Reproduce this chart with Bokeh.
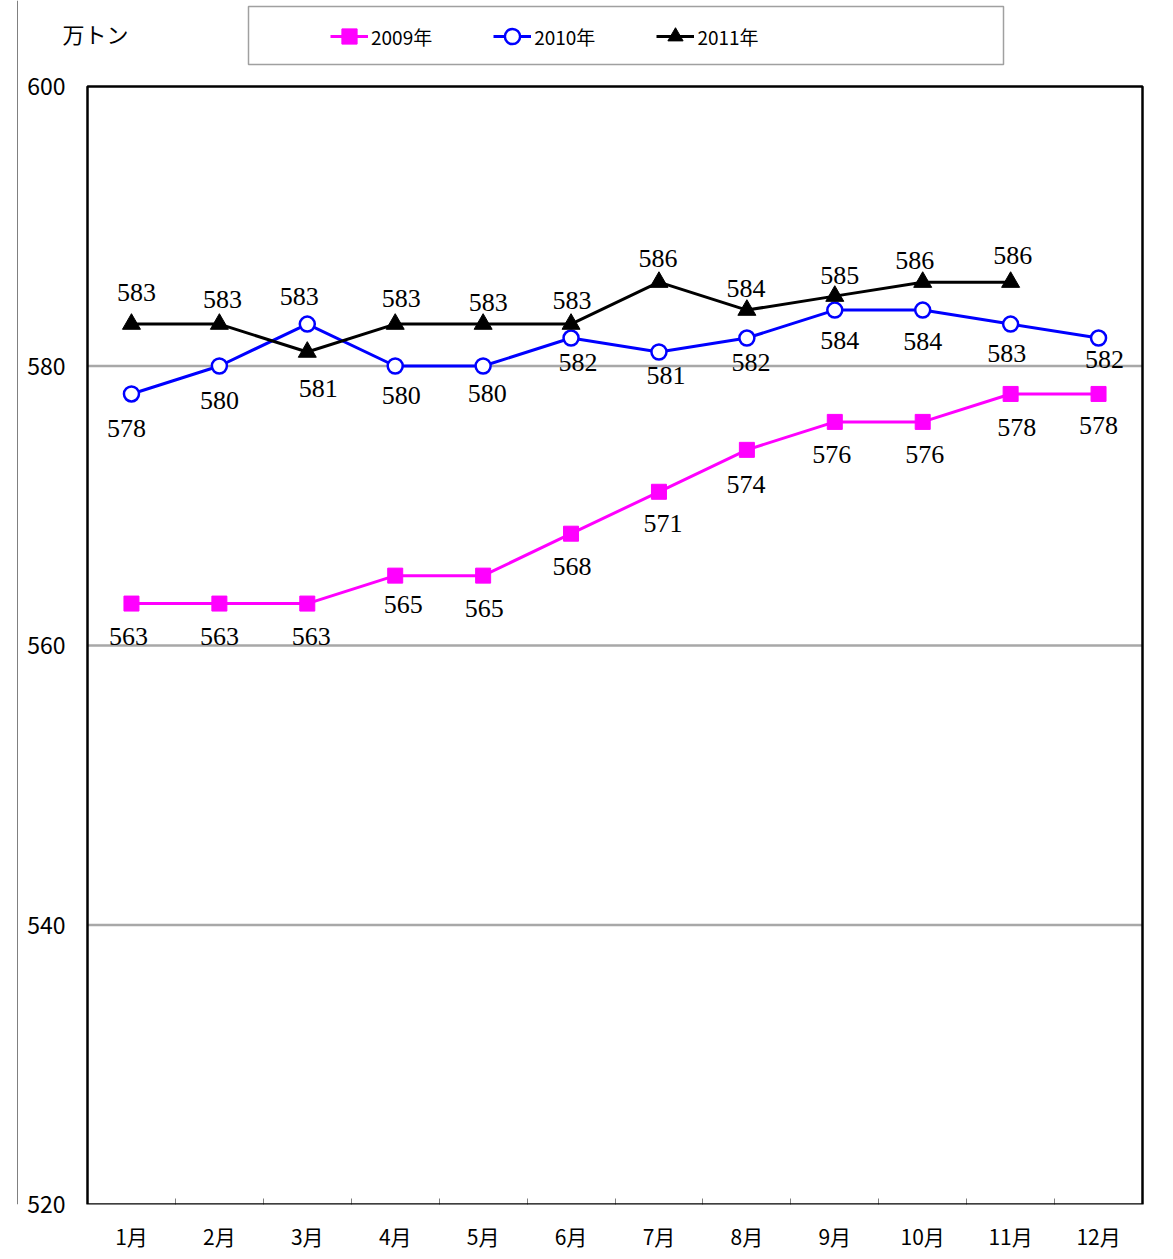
from bokeh.plotting import figure
from bokeh.models import (Range1d, FixedTicker, Legend, LegendItem, Label, BoxAnnotation, Span)
from bokeh.core.properties import value
from bokeh.embed import file_html
from bokeh.resources import INLINE

months = ["1月", "2月", "3月", "4月", "5月", "6月", "7月", "8月", "9月", "10月", "11月", "12月"]
y2009 = [563, 563, 563, 565, 565, 568, 571, 574, 576, 576, 578, 578]
y2010 = [578, 580, 583, 580, 580, 582, 581, 582, 584, 584, 583, 582]
y2011 = [583, 583, 581, 583, 583, 583, 586, 584, 585, 586, 586]
y_ticks = [520, 540, 560, 580, 600]
grid_values = [540, 560, 580]
unit_label = "万トン"
series_names = ["2009年", "2010年", "2011年"]

# label offsets in screen pixels (dx, dy; dy positive = down)
dx2009 = [-3, 0, 4, 8, 1, 1, 4, -1, -3, 2, 6, 0]
dy2009 = [33, 33, 33, 29, 33, 33, 32, 35, 33, 33, 34, 32]
dx2010 = [-5, 0, -8, 6, 4, 7, 7, 4, 5, 0, -4, 6]
dy2010 = [35, 34, -28, 29, 27, 24, 23, 24, 30, 31, 29, 21]
dx2011 = [5, 3, 11, 6, 5, 1, -1, -1, 5, -8, 2]
dy2011 = [-32, -25, 36, -26, -22, -24, -24, -22, -21, -22, -27]

SANS = "Noto Sans CJK JP"
SERIF = "Liberation Serif"

# layout geometry (pixels)
W, H = 1173, 1259
BOTTOM = 55
FH = H - BOTTOM
PL, PR, PT, PB = 87, 1142, 86, 1204   # plot box in pixels
XMIN, XMAX = 0.5, len(months) + 0.5
YMIN, YMAX = y_ticks[0], y_ticks[-1]
kx = (XMAX - XMIN) / (PR - PL)
ky = (YMAX - YMIN) / (PB - PT)
def px_x(px):
    return XMIN + (px - PL) * kx
def px_y(py):
    return YMAX + (PT - py) * ky

p = figure(width=W, height=H, output_backend="svg", toolbar_location=None,
           x_range=Range1d(px_x(0), px_x(W)), y_range=Range1d(px_y(FH), px_y(0)),
           min_border_left=0, min_border_right=0, min_border_top=0, min_border_bottom=BOTTOM)
p.background_fill_color = "white"
p.border_fill_color = "white"
p.outline_line_color = None

xs = list(range(1, len(months) + 1))

# x axis
p.xaxis.ticker = FixedTicker(ticks=xs, minor_ticks=[x + 0.5 for x in xs[:-1]])
p.xaxis.major_label_overrides = {x: m for x, m in zip(xs, months)}
p.xaxis.major_tick_line_color = None
p.xaxis.major_tick_in = 0
p.xaxis.major_tick_out = 0
p.xaxis.minor_tick_in = 6
p.xaxis.minor_tick_out = 0
p.xaxis.minor_tick_line_color = "#808080"
p.xaxis.axis_line_color = None
p.xaxis.major_label_text_font = SANS
p.xaxis.major_label_text_font_size = "21px"
p.xaxis.major_label_text_color = "black"
p.xaxis.major_label_standoff = 16

# y axis (labels drawn into the canvas margin)
p.yaxis.ticker = FixedTicker(ticks=y_ticks)
p.yaxis.major_tick_line_color = None
p.yaxis.major_tick_in = 0
p.yaxis.major_tick_out = 0
p.yaxis.minor_tick_line_color = None
p.yaxis.axis_line_color = None
p.yaxis.major_label_text_font = SANS
p.yaxis.major_label_text_font_size = "23px"
p.yaxis.major_label_text_color = "black"
p.yaxis.major_label_standoff = -65

p.xgrid.grid_line_color = None
p.ygrid.grid_line_color = None

# grid lines inside plot box
p.segment(x0=[XMIN] * len(grid_values), x1=[XMAX] * len(grid_values), y0=grid_values, y1=grid_values,
          line_color="#505050", line_width=2.5, line_dash="1 1")

# plot box
p.add_layout(BoxAnnotation(left=XMIN, right=XMAX, bottom=YMIN, top=YMAX,
                           fill_alpha=0, line_color="black", line_alpha=1, line_width=2.5))

# series
l09 = p.line(xs, y2009, line_color="#FF00FF", line_width=3)
m09 = p.scatter(xs, y2009, marker="square", size=15, fill_color="#FF00FF", line_color="#FF00FF")
l10 = p.line(xs, y2010, line_color="#0000FF", line_width=3)
m10 = p.scatter(xs, y2010, marker="circle", size=15, fill_color="white", line_color="#0000FF", line_width=2.5)
x11 = xs[:len(y2011)]
l11 = p.line(x11, y2011, line_color="black", line_width=3)
m11 = p.scatter(x11, y2011, marker="triangle", size=18, fill_color="black", line_color="black")

# data labels
for xv, yv, dx, dy in [(xs, y2009, dx2009, dy2009), (xs, y2010, dx2010, dy2010), (x11, y2011, dx2011, dy2011)]:
    for x, y, ox, oy in zip(xv, yv, dx, dy):
        p.text(x=[x], y=[y], text=[str(y)], x_offset=ox, y_offset=oy,
               text_font=value(SERIF), text_font_size="26px", text_color="black",
               text_align="center", text_baseline="middle")

# unit label
p.add_layout(Label(x=px_x(95), y=px_y(32), text=unit_label, text_font=SANS, text_font_size="22px",
                   text_color="black", text_align="center", text_baseline="middle"))

# legend box and legend
p.add_layout(BoxAnnotation(left=px_x(248), right=px_x(1003), bottom=px_y(64), top=px_y(6),
                           fill_color="white", fill_alpha=1, line_color="#A0A0A0", line_alpha=1, line_width=1.5))
legend = Legend(items=[LegendItem(label=series_names[0], renderers=[l09, m09]),
                       LegendItem(label=series_names[1], renderers=[l10, m10]),
                       LegendItem(label=series_names[2], renderers=[l11, m11])],
                orientation="horizontal", location=(330, FH - 55),
                glyph_width=38, glyph_height=38, label_standoff=3, label_width=60, spacing=61, padding=0,
                label_text_font=SANS, label_text_font_size="19px", label_text_color="black",
                border_line_color=None, background_fill_alpha=0, margin=0)
p.add_layout(legend, "center")

# left chart-area border
p.add_layout(Span(location=px_x(17), dimension="height", line_color="#808080", line_width=1))

open("out.html", "w").write(file_html(p, INLINE))
